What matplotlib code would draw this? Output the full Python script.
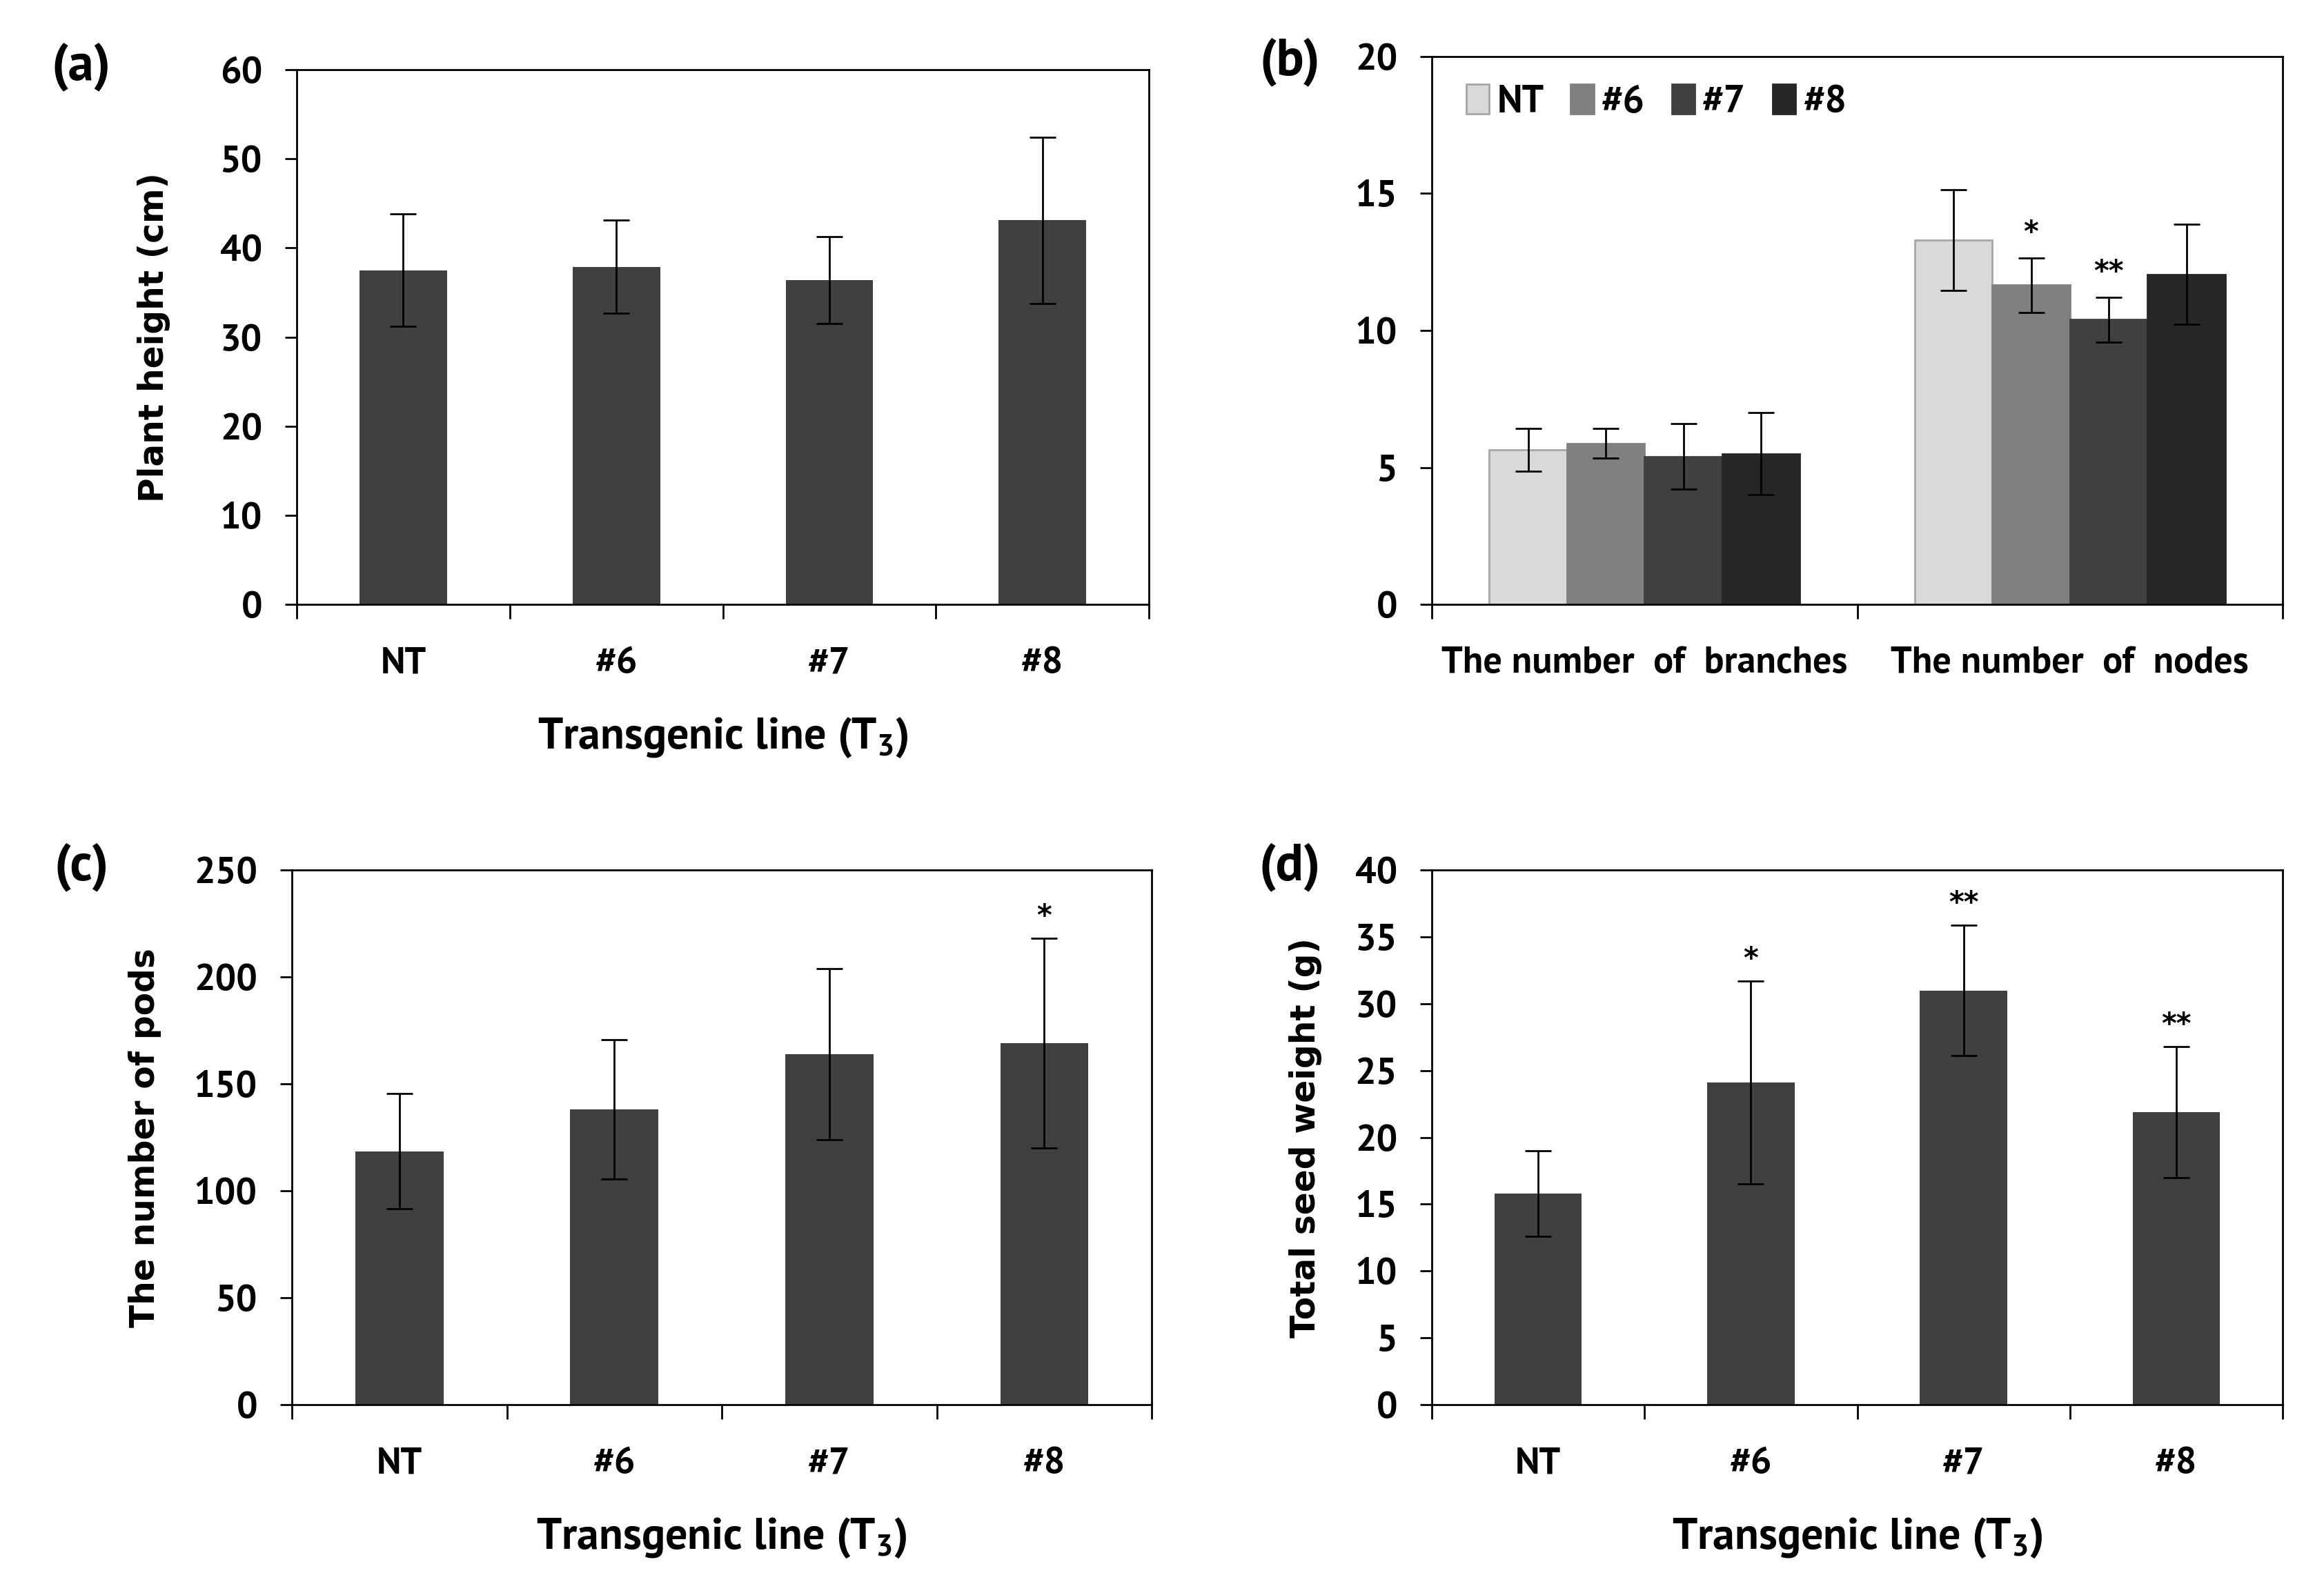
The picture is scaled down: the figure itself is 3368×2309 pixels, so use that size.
import matplotlib.pyplot as plt
import numpy as np

plt.rcParams['font.family'] = ['PT Sans', 'DejaVu Sans']
plt.rcParams['mathtext.fontset'] = 'custom'
plt.rcParams['mathtext.rm'] = 'PT Sans:bold'
plt.rcParams['mathtext.bf'] = 'PT Sans:bold'

lines = ['NT', '#6', '#7', '#8']

# (a) plant height
height = [37.5, 37.9, 36.4, 43.1]
height_err = [6.3, 5.2, 4.9, 9.3]

# (b) branches / nodes
traits = ['The number  of  branches', 'The number  of  nodes']
branches = [5.65, 5.88, 5.4, 5.5]
branches_err = [0.78, 0.55, 1.2, 1.5]
nodes = [13.3, 11.65, 10.4, 12.05]
nodes_err = [1.83, 1.0, 0.82, 1.83]
nodes_sig = ['', '*', '**', '']
b_colors = ['#d9d9d9', '#808080', '#404040', '#262626']
b_edges = ['#a6a6a6', '#808080', '#404040', '#262626']

# (c) pods
pods = [118.5, 138.2, 164.0, 169.2]
pods_err = [27.0, 32.6, 40.0, 49.0]
pods_sig = ['', '', '', '*']

# (d) seed weight
seed = [15.8, 24.1, 31.0, 21.9]
seed_err = [3.2, 7.6, 4.9, 4.9]
seed_sig = ['', '*', '**', '**']

bar_color = '#404040'
tick_fs = 19.5
lab_fs = 17.5

fig = plt.figure(figsize=(16.84, 11.545), dpi=200)


def style_axes(ax, ymax, ystep, ncat):
    ax.set_ylim(0, ymax)
    ax.set_yticks(np.arange(0, ymax + ystep / 2, ystep))
    ax.set_xlim(-0.5, ncat - 0.5)
    ax.set_xticks(np.arange(-0.5, ncat), minor=True)
    ax.tick_params(axis='x', which='minor', length=7.5, width=1.0, direction='out')
    ax.tick_params(axis='x', which='major', length=0, pad=22, labelsize=tick_fs)
    ax.tick_params(axis='y', length=6, width=1.0, pad=12, labelsize=tick_fs)
    for lab in ax.get_xticklabels() + ax.get_yticklabels():
        lab.set_fontweight('bold')
    for s in ax.spines.values():
        s.set_linewidth(1.0)
        s.set_color('black')


def star(ax, x, y, s):
    ax.text(x, y, s, ha='center', va='center', fontsize=15,
            fontweight='bold', family='DejaVu Sans')


def single_panel(rect, vals, errs, ymax, ystep, ylabel, ylab_x, sig=None):
    ax = fig.add_axes(rect)
    x = np.arange(len(lines))
    ax.bar(x, vals, width=0.41, color=bar_color, zorder=2)
    ax.errorbar(x, vals, yerr=errs, fmt='none', ecolor='black',
                elinewidth=1.0, capsize=7, capthick=1.0, zorder=3)
    ax.set_xticks(x)
    ax.set_xticklabels(lines)
    style_axes(ax, ymax, ystep, len(lines))
    ax.set_ylabel(ylabel, family='DejaVu Sans', fontsize=lab_fs, fontweight='bold')
    ax.yaxis.set_label_coords(ylab_x, 0.5)
    ax.set_xlabel('Transgenic line (T$_3$)', fontsize=23, fontweight='bold')
    ax.xaxis.set_label_coords(0.5, -0.25)
    ax.xaxis.label.set_va('center')
    if sig:
        for xi, v, e, s in zip(x, vals, errs, sig):
            if s:
                star(ax, xi, v + e + 0.04 * ymax, s)
    return ax


single_panel([0.1277, 0.6206, 0.3667, 0.3356], height, height_err, 60, 10,
             'Plant height (cm)', -0.148)
single_panel([0.1256, 0.1182, 0.3700, 0.3356], pods, pods_err, 250, 50,
             'The number of pods', -0.152, pods_sig)
single_panel([0.6161, 0.1182, 0.3661, 0.3356], seed, seed_err, 40, 5,
             'Total seed weight (g)', -0.129, seed_sig)

# (b) grouped bars
axb = fig.add_axes([0.6161, 0.6206, 0.3661, 0.3439])
gx = np.arange(len(traits))
bw = 0.1825
for i, name in enumerate(lines):
    vals = [branches[i], nodes[i]]
    errs = [branches_err[i], nodes_err[i]]
    pos = gx + (i - 1.5) * bw
    axb.bar(pos, vals, width=bw, color=b_colors[i], edgecolor=b_edges[i],
            linewidth=1.0, label=name, zorder=2)
    axb.errorbar(pos, vals, yerr=errs, fmt='none', ecolor='black',
                 elinewidth=1.0, capsize=7, capthick=1.0, zorder=3)
    if nodes_sig[i]:
        star(axb, pos[1], nodes[i] + nodes_err[i] + 0.045 * 20, nodes_sig[i])
axb.set_xticks(gx)
axb.set_xticklabels(traits)
style_axes(axb, 20, 5, len(traits))
leg = axb.legend(loc='upper left', ncol=4, frameon=False, fontsize=20,
                 handlelength=0.6, handleheight=0.8, handletextpad=0.2,
                 columnspacing=0.7, bbox_to_anchor=(0.0, 1.012), borderaxespad=0.5)
for t in leg.get_texts():
    t.set_fontweight('bold')

for letter, fx, fy in [('(a)', 0.035, 0.958), ('(b)', 0.555, 0.961),
                       ('(c)', 0.035, 0.4556), ('(d)', 0.555, 0.4556)]:
    fig.text(fx, fy, letter, ha='center', va='center', fontsize=27,
             fontweight='bold')

fig.savefig('out.png', dpi=200)
